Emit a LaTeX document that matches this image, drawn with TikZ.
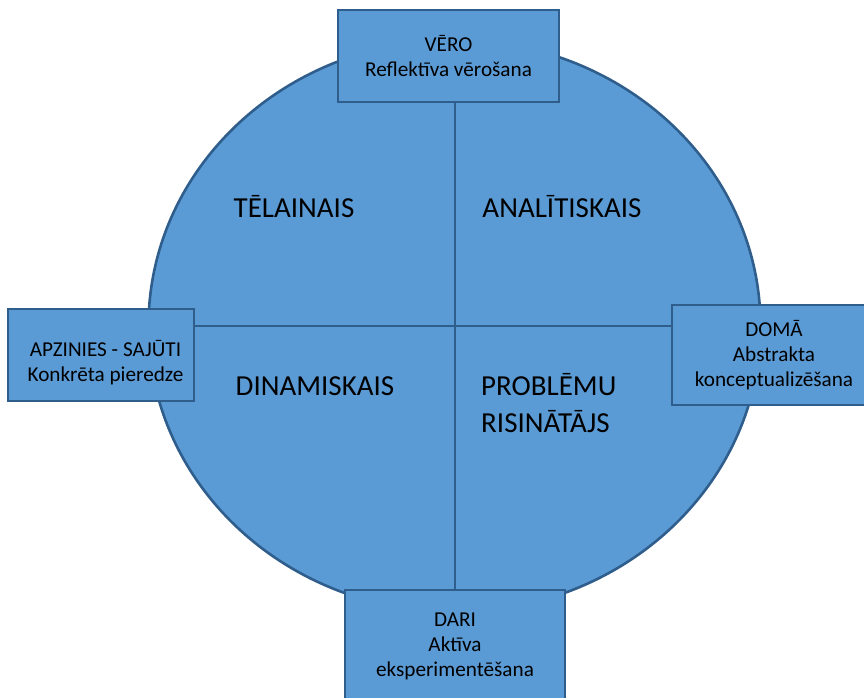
\documentclass[tikz,border=0pt]{standalone}
\usepackage{fontspec}
\setmainfont{Carlito}
\definecolor{fillblue}{HTML}{5B9BD5}
\definecolor{lineblue}{HTML}{2F5E8C}
\begin{document}
\begin{tikzpicture}[x=1pt,y=-1pt,
  box/.style={draw=lineblue, fill=fillblue, line width=2.4pt, align=center, inner sep=0pt,
    font=\fontsize{21.2}{25}\selectfont},
  quad/.style={font=\fontsize{29}{37}\selectfont, inner sep=0pt},
  divider/.style={draw=lineblue, line width=2pt}]
\useasboundingbox (0,0) rectangle (864,697);
\clip (0,0) rectangle (864,697);
\coordinate (c) at (455,326);
\draw[draw=lineblue, fill=fillblue, line width=2.6pt] (454.5,326) ellipse [x radius=306pt, y radius=286pt];
\node[box, minimum width=221pt, minimum height=92pt] (top) at (448.5,56) {VĒRO\\Reflektīva vērošana};
\node[box, minimum width=186pt, minimum height=92pt] (left) at (101,355) {\hspace*{9pt}\rule{0pt}{31pt}APZINIES - SAJŪTI\\\hspace*{9pt}Konkrēta pieredze};
\node[box, minimum width=204pt, minimum height=100pt] (right) at (774,355) {DOMĀ\\Abstrakta\\konceptualizēšana};
\node[box, minimum width=220pt, minimum height=112pt] (bottom) at (455,646) {DARI\\Aktīva\\eksperimentēšana};
\draw[divider] (top.south -| c) -- (bottom.north -| c);
\draw[divider] (left.east |- c) -- (right.west |- c);
\node[quad, anchor=base] (tel) at (294,217) {TĒLAINAIS};
\node[quad, anchor=base] (ana) at (562,217) {ANALĪTISKAIS};
\node[quad, anchor=base] (din) at (315,395) {DINAMISKAIS};
\node[quad, anchor=base west, align=left] (pro) at (481,432) {PROBLĒMU\\RISINĀTĀJS};
\end{tikzpicture}
\end{document}
